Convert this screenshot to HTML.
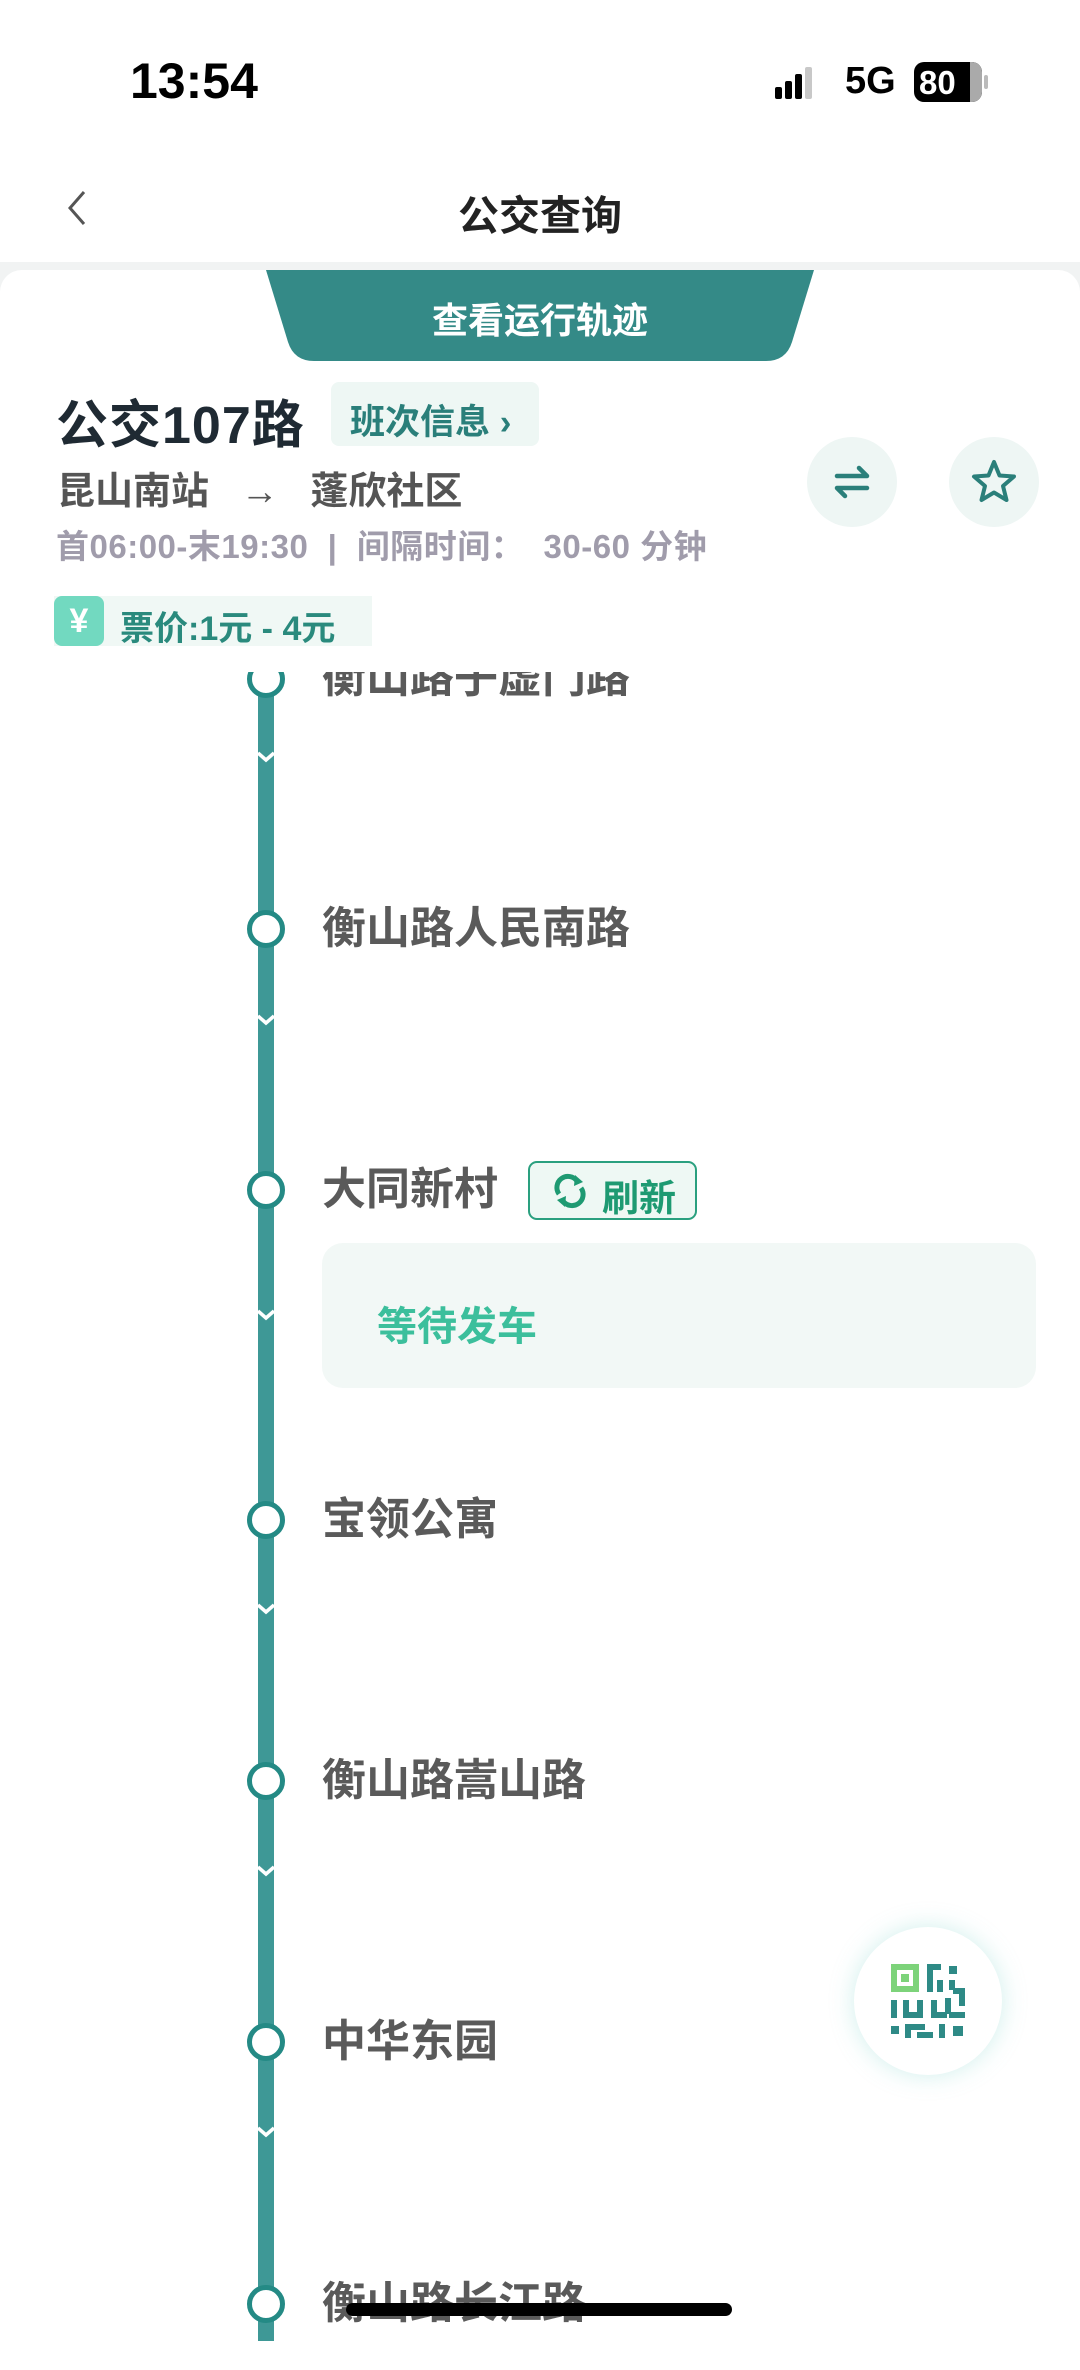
<!DOCTYPE html>
<html><head><meta charset="utf-8"><style>
*{margin:0;padding:0;box-sizing:border-box}
body{width:1080px;height:2341px;background:#fff;position:relative;overflow:hidden;font-family:"Liberation Sans","Noto Sans CJK SC",sans-serif}
.a{position:absolute;white-space:nowrap}
.st{font-family:"Liberation Sans","Noto Sans CJK SC",sans-serif;font-weight:700;color:#5a5a5a;font-size:44px;line-height:1}
.dot{position:absolute;left:247px;width:38px;height:38px;border-radius:50%;border:5px solid #248a85;background:#fff}
</style></head><body>
<!-- status bar -->
<div class="a" style="left:130px;top:52px;font-size:50px;font-weight:700;color:#000">13:54</div>
<div class="a" style="left:775px;top:67px;width:34px;height:32px">
 <div class="a" style="left:0;top:20px;width:7px;height:12px;background:#000;border-radius:2px"></div>
 <div class="a" style="left:10px;top:14px;width:7px;height:18px;background:#000;border-radius:2px"></div>
 <div class="a" style="left:20px;top:7px;width:7px;height:25px;background:#000;border-radius:2px"></div>
 <div class="a" style="left:30px;top:0;width:7px;height:32px;background:#c8c8c8;border-radius:2px"></div>
</div>
<div class="a" style="left:845px;top:60px;font-size:38px;font-weight:700;color:#000">5G</div>
<div class="a" style="left:914px;top:62px;width:68px;height:40px;background:#000;border-radius:10px;overflow:hidden">
 <div class="a" style="right:0;top:0;width:12px;height:40px;background:#aaa"></div>
 <div class="a" style="left:5px;top:2px;font-size:33px;font-weight:700;color:#fff">80</div>
</div>
<div class="a" style="left:984px;top:75px;width:4px;height:14px;background:#bbb;border-radius:2px"></div>
<!-- nav -->
<svg class="a" style="left:60px;top:188px" width="30" height="40"><polyline points="24,4 10,20 24,36" fill="none" stroke="#555" stroke-width="3"/></svg>
<div class="a" style="left:0;width:1080px;text-align:center;top:182px;font-size:41px;font-weight:700;color:#222">公交查询</div>
<!-- card -->
<div class="a" style="left:0;top:262px;width:1080px;height:30px;background:#f1f3f3"></div>
<div class="a" style="left:0;top:270px;width:1080px;height:2100px;background:#fff;border-radius:22px 22px 0 0"></div>
<svg class="a" style="left:260px;top:270px" width="560" height="92"><path d="M6,0 L554,0 L532,72 Q526,91 506,91 L54,91 Q34,91 28,72 Z" fill="#348a87"/></svg>
<div class="a" style="left:0;width:1080px;text-align:center;top:292px;font-size:36px;font-weight:700;color:#fff">查看运行轨迹</div>
<div class="a" style="left:56px;top:383px;font-size:52px;font-weight:700;color:#1f2a33;letter-spacing:1px">公交107路</div>
<div class="a" style="left:331px;top:382px;width:208px;height:64px;background:#eef7f4;border-radius:8px"></div>
<div class="a" style="left:350px;top:394px;font-size:35px;font-weight:700;color:#2a7f7a">班次信息 ›</div>
<div class="a" style="left:57px;top:460px;font-size:38px;font-weight:700;color:#555">昆山南站 &nbsp;&nbsp;→ &nbsp;&nbsp;蓬欣社区</div>
<div class="a" style="left:807px;top:437px;width:90px;height:90px;border-radius:50%;background:#eef6f4"></div>
<svg class="a" style="left:827px;top:457px" width="50" height="50"><path d="M10,19 H40 L32,11 M40,31 H10 L18,39" fill="none" stroke="#2a7f7a" stroke-width="4.5" stroke-linecap="round" stroke-linejoin="round"/></svg>
<div class="a" style="left:949px;top:437px;width:90px;height:90px;border-radius:50%;background:#eef6f4"></div>
<svg class="a" style="left:969px;top:457px" width="50" height="50"><polygon points="25,5 30.5,18.5 45,19.5 34,29 37.5,43 25,35.5 12.5,43 16,29 5,19.5 19.5,18.5" fill="none" stroke="#2a7f7a" stroke-width="4" stroke-linejoin="round"/></svg>
<div class="a" style="left:56px;top:520px;font-size:33px;font-weight:700;color:#a09cab;letter-spacing:0.5px">首06:00-末19:30 &nbsp;| &nbsp;间隔时间： &nbsp;30-60 分钟</div>
<div class="a" style="left:54px;top:596px;width:318px;height:50px;background:#f0f8f5"></div>
<div class="a" style="left:54px;top:596px;width:50px;height:50px;background:#72d9c0;border-radius:8px;color:#fff;font-size:34px;font-weight:700;text-align:center;line-height:50px">¥</div>
<div class="a" style="left:120px;top:601px;font-size:34px;font-weight:700;color:#2a8a7d">票价:1元 - 4元</div>
<!-- timeline -->
<div class="a" style="left:0;top:672px;width:1080px;height:1669px;overflow:hidden">
 <div style="position:absolute;left:0;top:-672px;width:1080px;height:2341px">
  <div class="a" style="left:258px;top:650px;width:16px;height:1700px;background:#3e9896"></div>
  <div class="dot" style="top:660px"></div><div class="a st" style="left:322px;top:656px">衡山路子虚门路</div>
  <div class="dot" style="top:910px"></div><div class="a st" style="left:322px;top:907px">衡山路人民南路</div>
  <div class="dot" style="top:1171px"></div><div class="a st" style="left:322px;top:1168px">大同新村</div>
  <div class="dot" style="top:1501px"></div><div class="a st" style="left:322px;top:1498px">宝领公寓</div>
  <div class="dot" style="top:1762px"></div><div class="a st" style="left:322px;top:1759px">衡山路嵩山路</div>
  <div class="dot" style="top:2023px"></div><div class="a st" style="left:322px;top:2020px">中华东园</div>
  <div class="dot" style="top:2285px"></div><div class="a st" style="left:322px;top:2282px">衡山路长江路</div>
 </div>
</div>
<svg class="a" style="left:258px;top:0" width="16" height="2341">
 <g fill="none" stroke="#fff" stroke-width="3.5">
 <polyline points="0,753 8,760 16,753"/><polyline points="0,1016 8,1023 16,1016"/><polyline points="0,1311 8,1318 16,1311"/>
 <polyline points="0,1605 8,1612 16,1605"/><polyline points="0,1867 8,1874 16,1867"/><polyline points="0,2128 8,2135 16,2128"/>
 </g>
</svg>
<!-- refresh -->
<div class="a" style="left:528px;top:1161px;width:169px;height:59px;border:2.5px solid #2aa07f;border-radius:9px;background:#eef8f4"></div>
<svg class="a" style="left:551px;top:1172px" width="38" height="38"><g fill="none" stroke="#1e9a72" stroke-width="5"><path d="M8,22 A11,11 0 0 1 26,9"/><path d="M30,16 A11,11 0 0 1 12,29"/></g><polygon points="24,3 32,10 23,14" fill="#1e9a72"/><polygon points="14,35 6,28 15,24" fill="#1e9a72"/></svg>
<div class="a" style="left:602px;top:1168px;font-size:37px;font-weight:700;color:#1e9a72">刷新</div>
<div class="a" style="left:322px;top:1243px;width:714px;height:145px;background:#f2f8f6;border-radius:21px"></div>
<div class="a" style="left:377px;top:1294px;font-size:40px;font-weight:700;color:#3cbf9c">等待发车</div>
<!-- QR -->
<div class="a" style="left:854px;top:1927px;width:148px;height:148px;border-radius:50%;background:#fff;box-shadow:0 0 24px rgba(120,210,200,0.35)"></div>
<svg class="a" style="left:889px;top:1962px" width="78" height="78" viewBox="0 0 78 78">
 <rect x="2" y="2" width="28" height="28" fill="#7dd37a"/><rect x="8" y="8" width="16" height="16" fill="#fff"/><rect x="12" y="12" width="8" height="8" fill="#7dd37a"/>
 <g fill="#2e8a86">
 <rect x="38" y="2" width="6" height="28"/><rect x="38" y="2" width="14" height="6"/><rect x="48" y="18" width="6" height="12"/>
 <rect x="60" y="4" width="8" height="8"/><rect x="60" y="18" width="6" height="10"/><rect x="64" y="26" width="12" height="6"/><rect x="70" y="26" width="6" height="18"/>
 <rect x="2" y="38" width="6" height="18"/><rect x="14" y="38" width="6" height="18"/><rect x="14" y="50" width="20" height="6"/>
 <rect x="28" y="38" width="6" height="14"/><rect x="42" y="38" width="6" height="18"/><rect x="42" y="50" width="16" height="6"/>
 <rect x="56" y="36" width="6" height="16"/><rect x="60" y="50" width="16" height="6"/>
 <rect x="2" y="64" width="8" height="8"/><rect x="16" y="62" width="20" height="6"/><rect x="16" y="62" width="6" height="14"/><rect x="28" y="70" width="16" height="6"/>
 <rect x="50" y="62" width="6" height="14"/><rect x="64" y="64" width="10" height="10"/>
 </g>
</svg>
<!-- home bar -->
<div class="a" style="left:346px;top:2303px;width:386px;height:13px;background:#000;border-radius:7px"></div>
</body></html>
